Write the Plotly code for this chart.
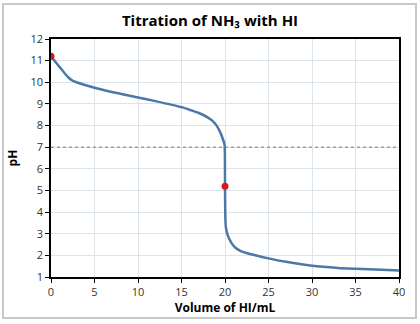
import plotly.graph_objects as go

vol = [0, 0.5, 1, 1.5, 2, 2.5, 3, 4, 5, 7, 10, 12, 15, 16, 17, 18, 18.5, 19, 19.5, 19.8, 19.95, 20.0, 20.05, 20.1, 20.3, 20.7, 21.2, 21.8, 23, 25, 27, 30, 33, 35, 38, 40]
ph =  [11.2, 10.95, 10.7, 10.45, 10.22, 10.07, 9.99, 9.86, 9.75, 9.55, 9.3, 9.13, 8.85, 8.72, 8.58, 8.38, 8.24, 8.02, 7.65, 7.32, 7.12, 5.2, 3.6, 3.3, 2.95, 2.6, 2.35, 2.2, 2.05, 1.86, 1.7, 1.52, 1.42, 1.38, 1.33, 1.3]
pt_vol = [0, 20]
pt_ph = [11.2, 5.2]
x_ticks = [0, 5, 10, 15, 20, 25, 30, 35, 40]
y_ticks = list(range(1, 13))

fig = go.Figure()
fig.add_trace(go.Scatter(x=vol, y=ph, mode="lines", line=dict(color="#4a78a8", width=2.5, shape="spline", smoothing=0.6), showlegend=False))
fig.add_trace(go.Scatter(x=[0, 40], y=[7, 7], mode="lines", line=dict(color="#857a3e", width=1, dash="dot"), showlegend=False))
fig.add_trace(go.Scatter(x=pt_vol, y=pt_ph, mode="markers", marker=dict(color="#e0141e", size=7), showlegend=False))

axis_common = dict(showline=True, linecolor="black", linewidth=1.5, mirror=True,
                   ticks="outside", ticklen=4, tickcolor="black",
                   showgrid=True, gridcolor="#dce3eb", gridwidth=1, zeroline=False,
                   tickfont=dict(family="Open Sans, Liberation Sans, sans-serif", size=11, color="#333"))

fig.update_layout(
    width=420, height=324,
    margin=dict(l=51, r=21, t=39, b=47),
    paper_bgcolor="white", plot_bgcolor="white",
    title=dict(text="<b>Titration of NH₃ with HI</b>", x=0.5, xanchor="center", y=0.935, yanchor="middle",
               font=dict(family="Open Sans, Liberation Sans, sans-serif", size=15, color="black")),
    xaxis=dict(range=[0, 40], tickvals=x_ticks, title=dict(text="<b>Volume of HI/mL</b>", standoff=6,
               font=dict(family="Open Sans, Liberation Sans, sans-serif", size=12, color="black")), **axis_common),
    yaxis=dict(range=[1, 12], tickvals=y_ticks, title=dict(text="<b>pH</b>", standoff=10,
               font=dict(family="Open Sans, Liberation Sans, sans-serif", size=12, color="black")), **axis_common),
    shapes=[dict(type="rect", xref="paper", yref="paper",
                 x0=(3 - 51) / 348, x1=(416 - 51) / 348, y0=(277 - 318) / 238, y1=(277 - 4) / 238,
                 line=dict(color="#c8c8c8", width=2))],
)
fig.write_html("out.html")
